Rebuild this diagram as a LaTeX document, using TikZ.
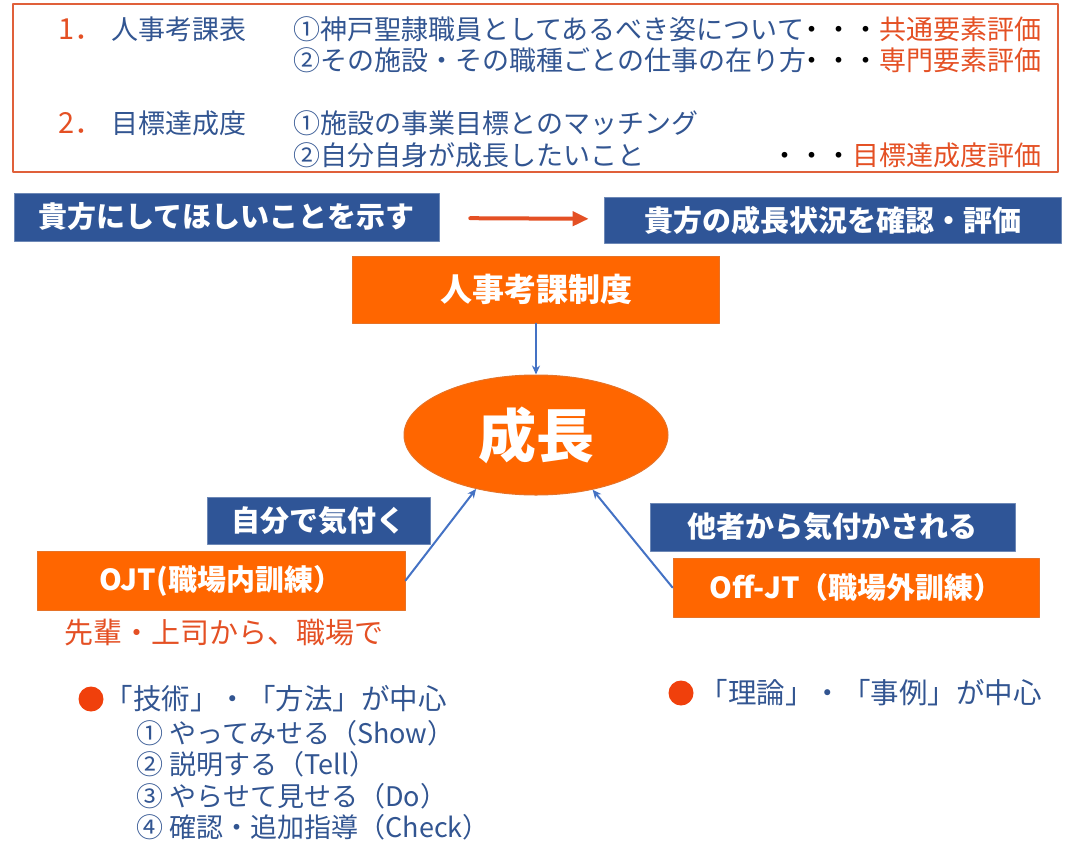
\documentclass[tikz,border=0pt]{standalone}
\usepackage{fontspec}
\setmainfont{Noto Sans CJK JP}
\usetikzlibrary{shapes.geometric,arrows.meta}
\definecolor{textblue}{RGB}{50,85,145}
\definecolor{markred}{RGB}{228,80,36}
\definecolor{dotred}{RGB}{240,64,12}
\definecolor{boxblue}{RGB}{47,85,151}
\definecolor{boxorange}{RGB}{255,102,0}
\definecolor{orangeedge}{RGB}{230,115,40}
\definecolor{linkblue}{RGB}{68,114,196}
\definecolor{framered}{RGB}{224,96,58}
\tikzset{
  bluebox/.style={fill=boxblue, draw=boxblue!70!white, line width=0.6pt, text=white, inner sep=0pt, font=\fontsize{29}{32}\selectfont\bfseries},
  orangebox/.style={fill=boxorange, draw=orangeedge, line width=1pt, text=white, inner sep=0pt, font=\fontsize{29}{32}\selectfont\bfseries},
  link/.style={-{Stealth[length=9pt,width=8pt]}, linkblue, line width=2pt},
  bullet/.style={circle, fill=dotred, inner sep=0pt, minimum size=25pt},
  headline/.style={anchor=base west, font=\fontsize{28.5}{32}\selectfont}
}
\begin{document}
\begin{tikzpicture}[x=1pt, y=-1pt, line join=round, line cap=round, font=\fontsize{27}{32}\selectfont, text=textblue]
\useasboundingbox (0,0) rectangle (1074,857);
\draw[framered, line width=1.5pt] (13,4) rectangle (1058,172);
% evaluation items
\node[anchor=base west, text=markred, font=\fontsize{29}{32}\selectfont] (n1) at (55,39) {1．};
\node[anchor=base west] (k1) at (108,39) {人事考課表};
\node[anchor=base west] (a1) at (290,39) {①神戸聖隷職員としてあるべき姿について};
\node[anchor=base east] (e1) at (1045,39) {{\color{black}・・・}\textcolor{markred}{共通要素評価}};
\node[anchor=base west] (a2) at (290,70) {②その施設・その職種ごとの仕事の在り方};
\node[anchor=base east] (e2) at (1045,70) {{\color{black}・・・}\textcolor{markred}{専門要素評価}};
\node[anchor=base west, text=markred, font=\fontsize{29}{32}\selectfont] (n2) at (55,133) {2．};
\node[anchor=base west] (k2) at (108,133) {目標達成度};
\node[anchor=base west] (a3) at (290,133) {①施設の事業目標とのマッチング};
\node[anchor=base west] (a4) at (290,165) {②自分自身が成長したいこと};
\node[anchor=base east] (e4) at (1045,165) {{\color{black}・・・}\textcolor{markred}{目標達成度評価}};
% boxes
\node[bluebox, minimum width=425pt, minimum height=48pt] (want) at (226.5,217) {貴方にしてほしいことを示す};
\node[bluebox, minimum width=457pt, minimum height=46pt] (check) at (832.5,220) {貴方の成長状況を確認・評価};
\draw[-{Triangle[length=16pt,width=14pt]}, markred, line width=4pt, shorten <=31pt, shorten >=15pt] (want) -- (check);
\node[orangebox, minimum width=367pt, minimum height=67pt, font=\fontsize{32}{34}\selectfont\bfseries] (system) at (536,289.5) {人事考課制度};
\node[ellipse, fill=boxorange, draw=orangeedge, line width=1pt, minimum width=264pt, minimum height=120pt, text=white, font=\fontsize{58}{60}\selectfont\bfseries] (grow) at (536,435) {成長};
\draw[link] (system) -- (grow);
\node[bluebox, minimum width=223pt, minimum height=47pt] (self) at (318.5,520.5) {自分で気付く};
\node[orangebox, minimum width=368pt, minimum height=59pt] (ojt) at (221,580.5) {OJT(職場内訓練）};
\node[text=markred, font=\fontsize{29}{32}\selectfont] (ojtnote) at (224,633) {先輩・上司から、職場で};
\node[bluebox, minimum width=365pt, minimum height=48pt] (others) at (832.5,527) {他者から気付かされる};
\node[orangebox, minimum width=366pt, minimum height=59pt] (offjt) at (856,587.5) {Off-JT（職場外訓練）};
\draw[link] (ojt.east) -- (grow.222);
\draw[link] (offjt.west) -- (grow.316);
% points
\node[bullet] (b1) at (91,699) {};
\node[headline] (p1) at (101,709) {「技術」・「方法」が中心};
\foreach \t/\y [count=\i] in {① やってみせる（Show）/743, ② 説明する（Tell）/774, ③ やらせて見せる（Do）/806, ④ 確認・追加指導（Check）/837}
  \node[anchor=base west] (step\i) at (133,\y) {\t};
\node[bullet] (b2) at (681,693) {};
\node[headline] (p2) at (696,703) {「理論」・「事例」が中心};
\end{tikzpicture}
\end{document}
